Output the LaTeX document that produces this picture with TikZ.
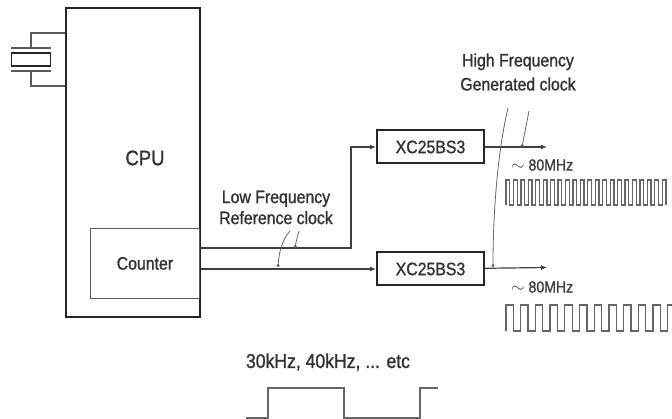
\documentclass[tikz,border=0pt]{standalone}
\usepackage{fontspec}
\setmainfont[FakeStretch=0.88,FakeBold=1.2]{Liberation Sans}
\usetikzlibrary{positioning,arrows.meta,calc}

\begin{document}
\begin{tikzpicture}[
  x=1pt, y=-1pt,
  node distance=87pt,
  box/.style={draw=black!85, line width=2pt, minimum width=107pt, minimum height=33pt, inner sep=0pt, text=black!80, font=\fontsize{18}{22}\selectfont},
  blockbox/.style={draw=black!85, line width=2pt, inner sep=0pt},
  sub/.style={draw=black!65, line width=1.2pt, inner sep=0pt, text=black!80, font=\fontsize{18}{22}\selectfont},
  lbl/.style={align=center, text=black!80, font=\fontsize{18}{21}\selectfont, inner sep=0pt},
  small/.style={text=black!75, font=\fontsize{16}{18}\selectfont, inner sep=0pt},
  arr/.style={-{Latex[length=6pt,width=5pt]}, line width=1.2pt, draw=black!75},
  wire/.style={line width=1.2pt, draw=black!65},
  wave/.style={line width=1.3pt, draw=black!60, line join=miter},
  note/.style={-{Circle[length=3pt]}, line width=.8pt, draw=black!60}
]
\useasboundingbox (0,0) rectangle (672,419);

\node[blockbox, minimum width=134pt, minimum height=309pt] (cpu) at (133,162.5) {};
\node[lbl, font=\fontsize{21}{24}\selectfont] (cpulbl) at (145,158) {CPU};
\node[sub, anchor=south east, minimum width=109pt, minimum height=70pt] (counter) at (200,299) {Counter};

% crystal
\node[blockbox, minimum width=39pt, minimum height=13pt, line width=1.8pt] (xtal) at (31,59.5) {};
\coordinate (platea) at (31,48);
\coordinate (plateb) at (31,71);
\draw[wire] (11,48) -- (51,48);
\draw[wire] (11,71) -- (51,71);
\draw[wire] (platea) |- (cpu.west |- 0,33);
\draw[wire] (plateb) |- (cpu.west |- 0,86);

\node[box] (xcu) at (430.5,147) {XC25BS3};
\node[box, below=of xcu] (xcl) {XC25BS3};

\coordinate (tap) at (200,248);
\coordinate (outu) at (547,147);
\coordinate (outl) at (547,267.5);
\draw[arr] (tap) -| (351,147) -- (xcu);
\draw[arr] (xcl.west -| cpu.east) -- (xcl);
\draw[arr] (xcu) -- (outu);
\draw[arr] (xcl) -- (outl);

\node[lbl] (lowlbl) at (276,207.5) {Low Frequency\\Reference clock};
\node[lbl, font=\fontsize{18}{24}\selectfont] (highlbl) at (518,72) {High Frequency\\Generated clock};
\node[small, anchor=west] (mhzu) at (511,165) {$\sim$ 80MHz};
\node[small, anchor=west] (mhzl) at (511,287) {$\sim$ 80MHz};
\node[lbl, font=\fontsize{20}{24}\selectfont] (khzlbl) at (328,362) {30kHz, 40kHz, ... etc};

% pointers onto the clock lines
\draw[note] (290,231) .. controls (282,240) and (279,252) .. (278,267);
\draw[note] (299,231) .. controls (297,238) and (296,242) .. (295,248);
\draw[note] (508,108) .. controls (498,150) and (493,210) .. (493,267);
\draw[note] (529,111) -- (522,147);

% clock waveforms
\draw[wave] (506,205) -- ++(0,-25) foreach \i in {1,...,21} { -- ++(3.72,0) -- ++(0,25) -- ++(3.72,0) -- ++(0,-25) } -- ++(3.72,0) -- ++(0,25);
\draw[wave] (506,331) -- ++(0,-26) foreach \i in {1,...,11} { -- ++(7.35,0) -- ++(0,26) -- ++(7.35,0) -- ++(0,-26) } -- ++(4.3,0);
\draw[wave] (246,418) -| (268,388) -| (344,418) -| (420,388) -- (438,388);
\end{tikzpicture}
\end{document}
